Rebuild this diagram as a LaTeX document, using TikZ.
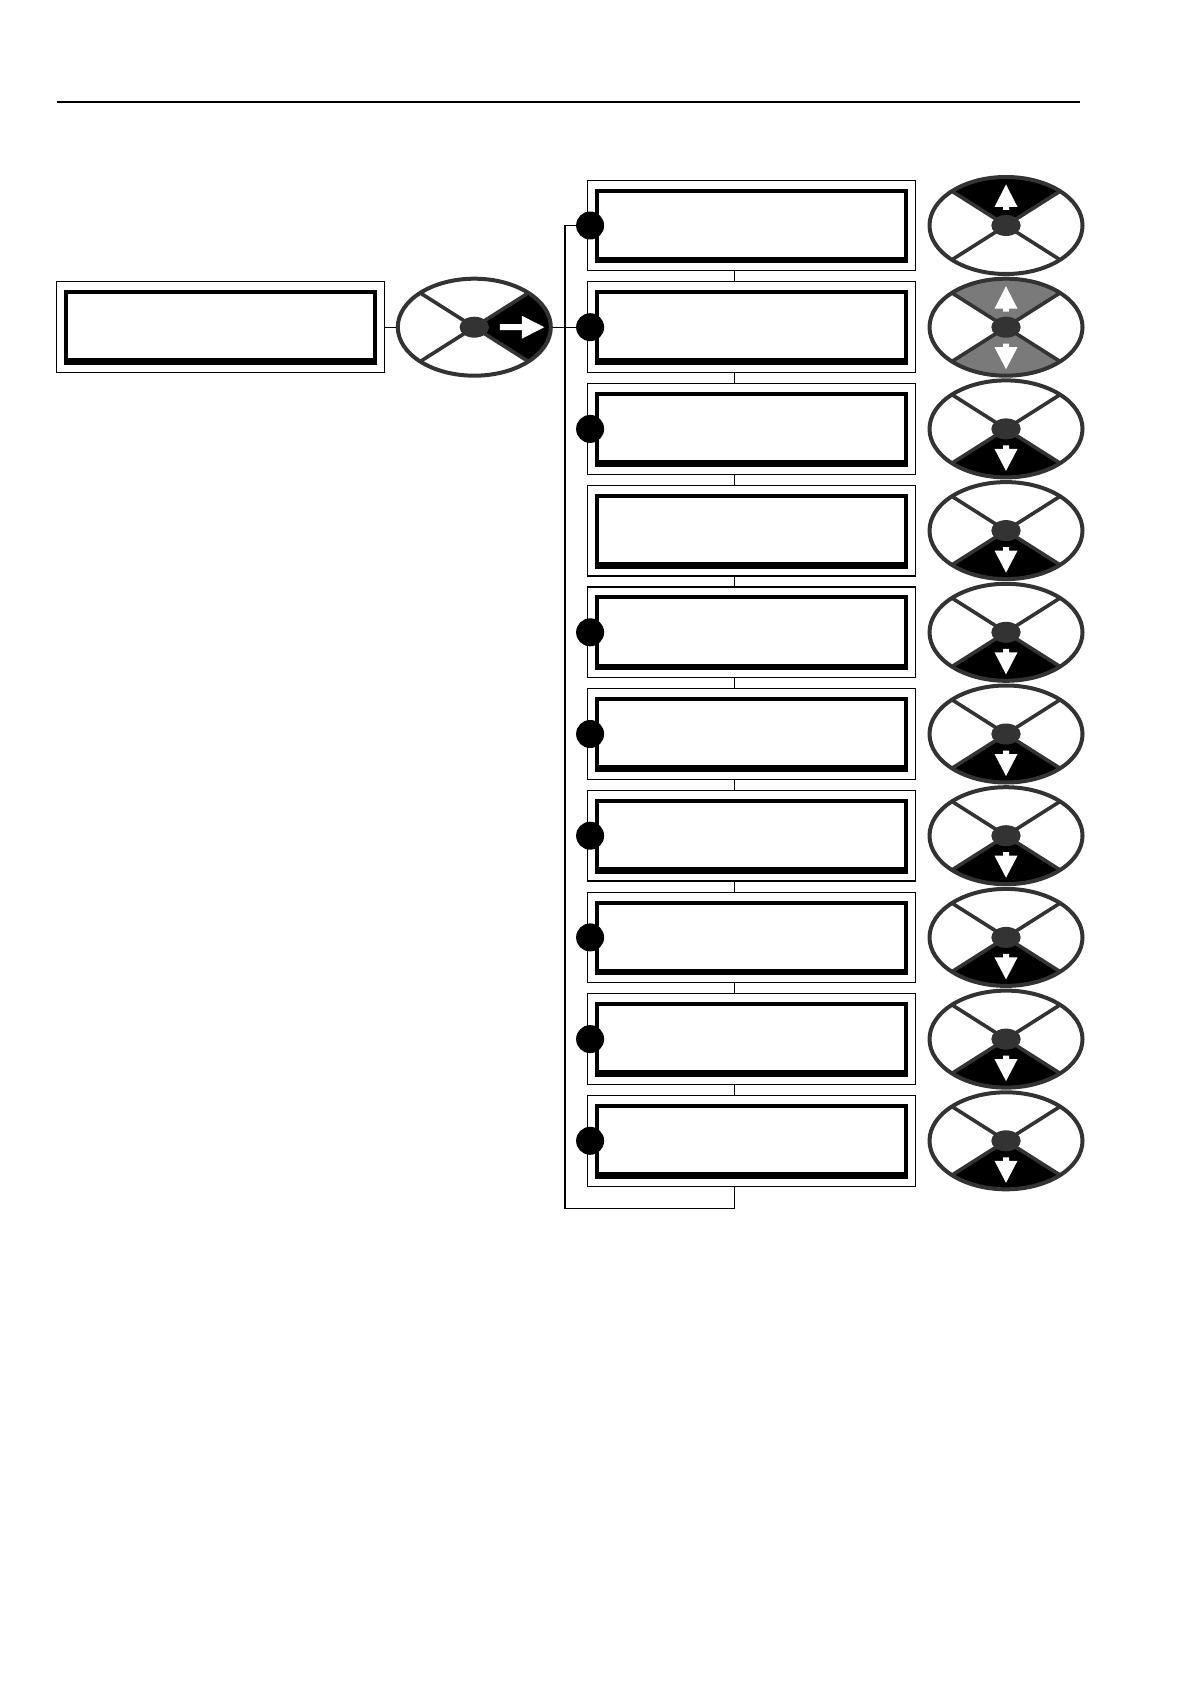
\documentclass[tikz,border=0pt]{standalone}
\usetikzlibrary{shapes.geometric}

\definecolor{rim}{gray}{0.2}
\definecolor{keygray}{gray}{0.48}

% key faces, pixel units round the key centre
\newcommand\padUp{(0,0) -- (-54.1,-34.3) arc[start angle=225, end angle=315, x radius=76.5, y radius=48.5] -- cycle}
\newcommand\padDown{(0,0) -- (54.1,34.3) arc[start angle=45, end angle=135, x radius=76.5, y radius=48.5] -- cycle}
\newcommand\padRight{(0,0) -- (54.1,-34.3) arc[start angle=-45, end angle=45, x radius=76.5, y radius=48.5] -- cycle}
\newcommand\tipUp{(0,-41) -- (11.5,-18.5) -- (3,-18.5) -- (3,-15.5) -- (-3,-15.5) -- (-3,-18.5) -- (-11.5,-18.5) -- cycle}
\newcommand\tipDown{(0,42) -- (11.5,20) -- (3,20) -- (3,16.5) -- (-3,16.5) -- (-3,20) -- (-11.5,20) -- cycle}
\newcommand\tipRight{(70,0) -- (47.5,-11.5) -- (47.5,-3) -- (25.5,-3) -- (25.5,3) -- (47.5,3) -- (47.5,11.5) -- cycle}

\begin{document}
\begin{tikzpicture}[
        x=0.5pt,
        y=-0.5pt,
        frame/.style={draw, line width=0.6pt, inner sep=0pt, minimum width=164.2pt, minimum height=45.3pt},
        dial/.style={ellipse, draw=rim, line width=2pt, inner sep=0pt, minimum width=76.5pt, minimum height=48.5pt},
        hub/.style={ellipse, fill=rim, inner sep=0pt, minimum width=14.7pt, minimum height=10.5pt},
        pin/.style={circle, fill=black, inner sep=0pt, minimum size=14pt},
        spoke/.style={draw=rim, line width=1.8pt},
        wire/.style={line width=0.65pt}
    ]
    \useasboundingbox (0,0) rectangle (1190,1684);

    \draw[line width=0.6pt] (57,102) -- (1080,102);

    % displays
    \node[frame] (lcd0) at (220.5,327.2) {};
    \foreach \i in {1,...,10}
        \node[frame] (lcd\i) at (751.5,{225.5+(\i-1)*101.7}) {};
    \foreach \i in {0,...,10} {
        \fill ([shift={(8.7,9)}]lcd\i.north west) rectangle ([shift={(-8.7,-8)}]lcd\i.south east);
        \fill[white] ([shift={(12.7,13)}]lcd\i.north west) rectangle ([shift={(-12.4,-14.7)}]lcd\i.south east);
    }

    % keys
    \coordinate (c0) at (474.3,327.2);
    \foreach \i in {1,...,10}
        \coordinate (c\i) at (1006,{225.5+(\i-1)*101.7});

    \begin{scope}[shift={(c0)}]
        \fill \padRight;
        \fill[white] \tipRight;
    \end{scope}
    \begin{scope}[shift={(c1)}]
        \fill \padUp;
        \fill[white] \tipUp;
    \end{scope}
    \begin{scope}[shift={(c2)}]
        \fill[keygray] \padUp \padDown;
        \fill[white] \tipUp \tipDown;
    \end{scope}
    \foreach \i in {3,...,10} {
        \begin{scope}[shift={(c\i)}]
            \fill \padDown;
            \fill[white] \tipDown;
        \end{scope}
    }
    \foreach \i in {0,...,10} {
        \draw[spoke, shift={(c\i)}] (-54.1,-34.3) -- (54.1,34.3) (54.1,-34.3) -- (-54.1,34.3);
        \node[dial] (key\i) at (c\i) {};
        \node[hub] (hub\i) at (c\i) {};
    }

    % links
    \foreach \i [evaluate=\i as \j using int(\i+1)] in {1,...,9}
        \draw[wire] ([shift={(-17.2,0)}]lcd\i.south) -- ([shift={(-17.2,0)}]lcd\j.north);
    \foreach \i in {1,2,3,5,6,7,8,9,10}
        \node[pin] (dot\i) at ([shift={(3.4,0)}]lcd\i.west) {};
    \coordinate (bend) at (565,1208.7);
    \draw[wire] (lcd0.east) -- (key0.west);
    \draw[wire] (key0.east) -- (dot2);
    \draw[wire] (dot1) -| (bend) -| ([shift={(-17.2,0)}]lcd10.south);
\end{tikzpicture}
\end{document}
